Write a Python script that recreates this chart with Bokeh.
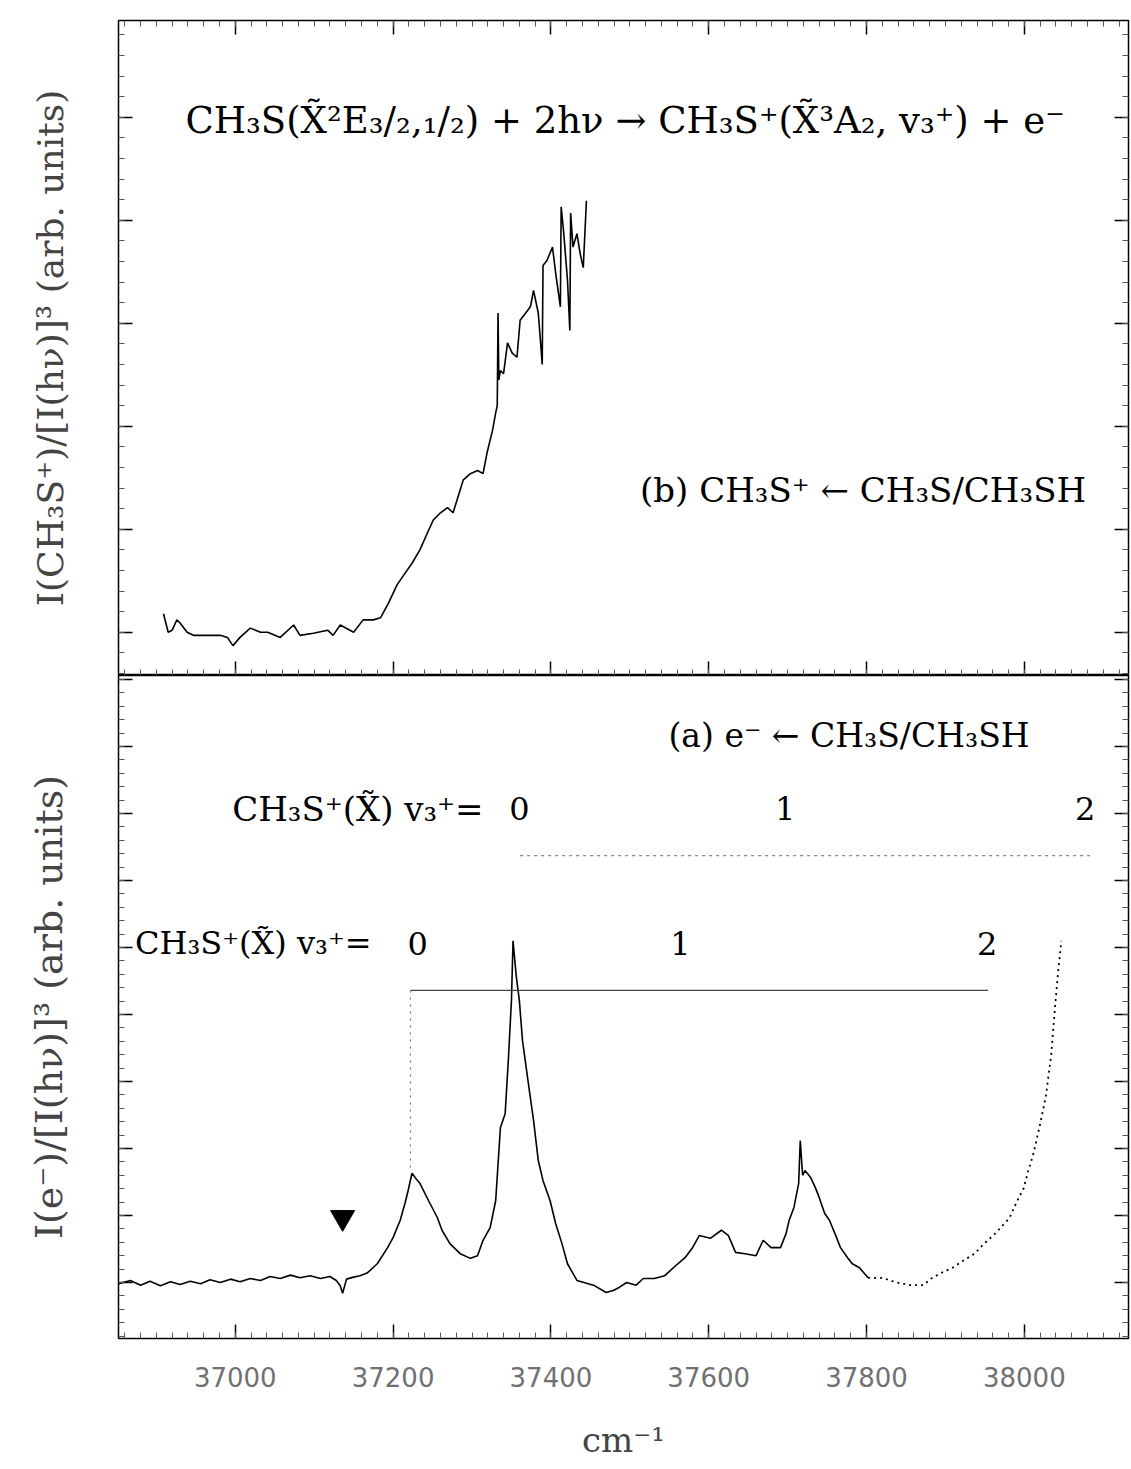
from bokeh.plotting import figure
from bokeh.layouts import column
from bokeh.models import (Range1d, LinearAxis, SingleIntervalTicker, FixedTicker, Label,
                          CustomJSTickFormatter)
from bokeh.embed import file_html
from bokeh.resources import INLINE

# ---------------- data ----------------
# (b) CH3S+ ion signal vs two-photon energy
ion_wavenumber = [36909, 36915, 36920, 36926, 36930, 36939, 36947, 36965, 36981, 36990,
                  36997, 37006, 37019, 37032, 37041, 37057, 37074, 37082, 37099, 37117,
                  37124, 37133, 37150, 37162, 37175, 37184, 37194, 37205, 37213, 37224,
                  37234, 37245, 37251, 37260, 37269, 37276, 37289, 37298, 37307, 37314,
                  37319, 37326, 37330, 37332, 37333, 37334, 37336, 37340, 37345, 37351,
                  37357, 37361, 37368, 37374, 37378, 37384, 37389, 37390, 37395, 37402,
                  37406, 37412, 37413, 37416, 37421, 37424, 37425, 37428, 37433, 37437,
                  37441, 37445]
ion_signal = [0.18, 0.00, 0.02, 0.12, 0.09, 0.00, -0.03, -0.03, -0.03, -0.05,
              -0.13, -0.05, 0.04, 0.00, 0.00, -0.05, 0.07, -0.03, -0.01, 0.02,
              -0.03, 0.07, 0.00, 0.12, 0.12, 0.14, 0.28, 0.46, 0.55, 0.67,
              0.80, 0.99, 1.09, 1.16, 1.21, 1.16, 1.48, 1.54, 1.57, 1.54,
              1.74, 1.96, 2.13, 2.20, 3.10, 2.45, 2.54, 2.51, 2.81, 2.71,
              2.67, 3.03, 3.10, 3.16, 3.32, 3.10, 2.60, 3.56, 3.61, 3.74,
              3.49, 3.16, 4.13, 3.90, 3.42, 2.93, 4.07, 3.74, 3.87, 3.68,
              3.54, 4.19]

# (a) photoelectron signal vs two-photon energy
e_wavenumber = [36852, 36867, 36880, 36892, 36905, 36918, 36930, 36943, 36956, 36968,
                36981, 36994, 37006, 37019, 37032, 37044, 37057, 37070, 37082, 37095,
                37108, 37120, 37128, 37133, 37136, 37141, 37150, 37158, 37167, 37180,
                37193, 37200, 37209, 37215, 37219, 37224, 37229, 37234, 37245, 37256,
                37262, 37272, 37285, 37298, 37307, 37314, 37323, 37330, 37336, 37342,
                37346, 37350, 37352, 37356, 37360, 37364, 37371, 37378, 37384, 37390,
                37399, 37406, 37414, 37421, 37433, 37454, 37470, 37479, 37487, 37496,
                37508, 37517, 37531, 37544, 37558, 37570, 37579, 37588, 37602, 37616,
                37625, 37634, 37646, 37660, 37669, 37679, 37691, 37698, 37702, 37708,
                37714, 37716, 37719, 37722, 37729, 37735, 37740, 37747, 37753, 37760,
                37767, 37776, 37782, 37791, 37802, 37820, 37838, 37855, 37872, 37882,
                37896, 37909, 37923, 37937, 37949, 37963, 37981, 37991, 37999, 38005,
                38011, 38019, 38027, 38034, 38039, 38043, 38047]
e_signal = [-0.02, 0.03, -0.04, 0.02, -0.05, 0.01, -0.03, 0.02, -0.02, 0.04,
            0.00, 0.05, 0.01, 0.06, 0.03, 0.09, 0.06, 0.11, 0.07, 0.10,
            0.06, 0.09, 0.03, -0.05, -0.16, 0.05, 0.08, 0.10, 0.14, 0.28,
            0.52, 0.67, 0.93, 1.18, 1.37, 1.63, 1.55, 1.48, 1.22, 0.97,
            0.78, 0.58, 0.43, 0.36, 0.40, 0.63, 0.82, 1.22, 2.31, 2.52,
            3.31, 4.21, 5.10, 4.58, 4.21, 3.61, 3.01, 2.42, 1.82, 1.52,
            1.22, 0.88, 0.58, 0.28, 0.03, -0.04, -0.15, -0.12, -0.07, 0.00,
            -0.04, 0.06, 0.06, 0.10, 0.25, 0.37, 0.51, 0.70, 0.66, 0.78,
            0.70, 0.45, 0.43, 0.40, 0.63, 0.52, 0.52, 0.73, 0.93, 1.12,
            1.48, 2.12, 1.60, 1.67, 1.57, 1.42, 1.27, 1.03, 0.93, 0.73,
            0.52, 0.37, 0.28, 0.22, 0.07, 0.07, 0.00, -0.04, -0.04, 0.06,
            0.15, 0.22, 0.33, 0.43, 0.58, 0.73, 0.96, 1.22, 1.40, 1.67,
            1.90, 2.31, 2.76, 3.39, 4.13, 4.66, 5.10]
dotted_from = 37802  # trace drawn dotted beyond this energy

# vibrational combs v3+ = 0, 1, 2
comb_upper_pos = [37360, 37697, 38077]
comb_upper_line = [37361, 38084]
comb_lower_pos = [37231, 37564, 37953]
comb_lower_line = [37222, 37954]
comb_labels = ["0", "1", "2"]
threshold_marker = 37136  # filled triangle

x_tick_values = [37000, 37200, 37400, 37600, 37800, 38000]
x_minor_values = list(range(36860, 38140, 20))

FONT = "DejaVu Serif"

x_range = Range1d(36852, 38132)
blank = CustomJSTickFormatter(code="return ''")


def style_axis(ax, ticker, labels=False):
    ax.ticker = ticker
    ax.major_tick_in = 14
    ax.major_tick_out = 0
    ax.minor_tick_in = 6
    ax.minor_tick_out = 0
    ax.major_tick_line_color = "black"
    ax.minor_tick_line_color = "#555555"
    ax.major_tick_line_width = 1.5
    ax.axis_line_color = None
    if not labels:
        ax.formatter = blank
        ax.major_label_standoff = 0


def y_ticker():
    return SingleIntervalTicker(interval=1, num_minor_ticks=5)


def x_ticker():
    return FixedTicker(ticks=x_tick_values, minor_ticks=x_minor_values)


# ---------------- top panel (b) ----------------
top = figure(width=1131, height=675, x_range=x_range, y_range=Range1d(-0.42, 5.94),
             output_backend="svg", toolbar_location=None,
             min_border_left=118, min_border_right=3, min_border_top=20, min_border_bottom=0)
top.xgrid.grid_line_color = None
top.ygrid.grid_line_color = None
top.outline_line_color = "black"
top.outline_line_width = 1.5
top.background_fill_color = "white"
top.border_fill_color = "white"
style_axis(top.xaxis[0], x_ticker())
style_axis(top.yaxis[0], y_ticker())
top.yaxis.axis_label = "I(CH₃S⁺)/[I(hν)]³ (arb. units)"
top.yaxis.axis_label_text_font = FONT
top.yaxis.axis_label_text_font_style = "normal"
top.yaxis.axis_label_text_font_size = "36px"
top.yaxis.axis_label_standoff = 48
ra = LinearAxis()
style_axis(ra, y_ticker())
top.add_layout(ra, "right")
aa = LinearAxis()
style_axis(aa, x_ticker())
top.add_layout(aa, "above")

top.line(ion_wavenumber, ion_signal, line_color="black", line_width=1.6)

top.add_layout(Label(x=37494, y=4.97, text="CH₃S(X̃²E₃/₂,₁/₂) + 2hν → CH₃S⁺(X̃³A₂, v₃⁺) + e⁻",
                     text_font=FONT, text_font_size="37px", text_align="center",
                     text_baseline="middle", text_color="black"))
top.add_layout(Label(x=37513, y=1.38, text="(b) CH₃S⁺ ← CH₃S/CH₃SH",
                     text_font=FONT, text_font_size="34px", text_align="left",
                     text_baseline="middle", text_color="black"))

# ---------------- bottom panel (a) ----------------
bot = figure(width=1131, height=794, x_range=x_range, y_range=Range1d(-0.836, 9.06),
             output_backend="svg", toolbar_location=None,
             min_border_left=118, min_border_right=3, min_border_top=0, min_border_bottom=131)
bot.xgrid.grid_line_color = None
bot.ygrid.grid_line_color = None
bot.outline_line_color = "black"
bot.outline_line_width = 1.5
bot.background_fill_color = "white"
bot.border_fill_color = "white"
style_axis(bot.xaxis[0], x_ticker(), labels=True)
bot.xaxis.major_label_text_font = "DejaVu Sans"
bot.xaxis.major_label_text_font_size = "26px"
bot.xaxis.major_label_text_color = "#707070"
bot.xaxis.major_label_standoff = 28
bot.xaxis.axis_label = "cm⁻¹"
bot.xaxis.axis_label_text_font = FONT
bot.xaxis.axis_label_text_font_style = "normal"
bot.xaxis.axis_label_text_font_size = "34px"
bot.xaxis.axis_label_standoff = 30
style_axis(bot.yaxis[0], y_ticker())
bot.yaxis.axis_label = "I(e⁻)/[I(hν)]³ (arb. units)"
bot.yaxis.axis_label_text_font = FONT
bot.yaxis.axis_label_text_font_style = "normal"
bot.yaxis.axis_label_text_font_size = "38px"
bot.yaxis.axis_label_standoff = 48
rb = LinearAxis()
style_axis(rb, y_ticker())
bot.add_layout(rb, "right")

cut = next(i for i, v in enumerate(e_wavenumber) if v >= dotted_from)
bot.line(e_wavenumber[:cut + 1], e_signal[:cut + 1], line_color="black", line_width=1.6)
bot.line(e_wavenumber[cut:], e_signal[cut:], line_color="black", line_width=1.8,
         line_dash="2 4")

bot.scatter([threshold_marker], [0.97], marker="inverted_triangle", size=24,
            fill_color="black", line_color="black")

# upper comb
bot.add_layout(Label(x=36996, y=7.07, text="CH₃S⁺(X̃) v₃⁺=", text_font=FONT,
                     text_font_size="34px", text_baseline="middle", text_color="black"))
for pos, lab in zip(comb_upper_pos, comb_labels):
    bot.add_layout(Label(x=pos, y=7.07, text=lab, text_font=FONT, text_font_size="32px",
                         text_align="center", text_baseline="middle", text_color="black"))
bot.line(comb_upper_line, [6.37, 6.37], line_color="#888888", line_width=1.2,
         line_dash="3 4")

# lower comb
bot.add_layout(Label(x=36873, y=5.06, text="CH₃S⁺(X̃) v₃⁺=", text_font=FONT,
                     text_font_size="32px", text_baseline="middle", text_color="black"))
for pos, lab in zip(comb_lower_pos, comb_labels):
    bot.add_layout(Label(x=pos, y=5.06, text=lab, text_font=FONT, text_font_size="32px",
                         text_align="center", text_baseline="middle", text_color="black"))
bot.line(comb_lower_line, [4.36, 4.36], line_color="#444444", line_width=1.2)
bot.line([comb_lower_line[0], comb_lower_line[0]], [4.36, 1.65], line_color="#777777",
         line_width=1.2, line_dash="2 5")

bot.add_layout(Label(x=37549, y=8.16, text="(a) e⁻ ← CH₃S/CH₃SH", text_font=FONT,
                     text_font_size="33px", text_baseline="middle", text_color="black"))

layout = column(top, bot, spacing=0)
open("out.html", "w").write(file_html(layout, INLINE))
